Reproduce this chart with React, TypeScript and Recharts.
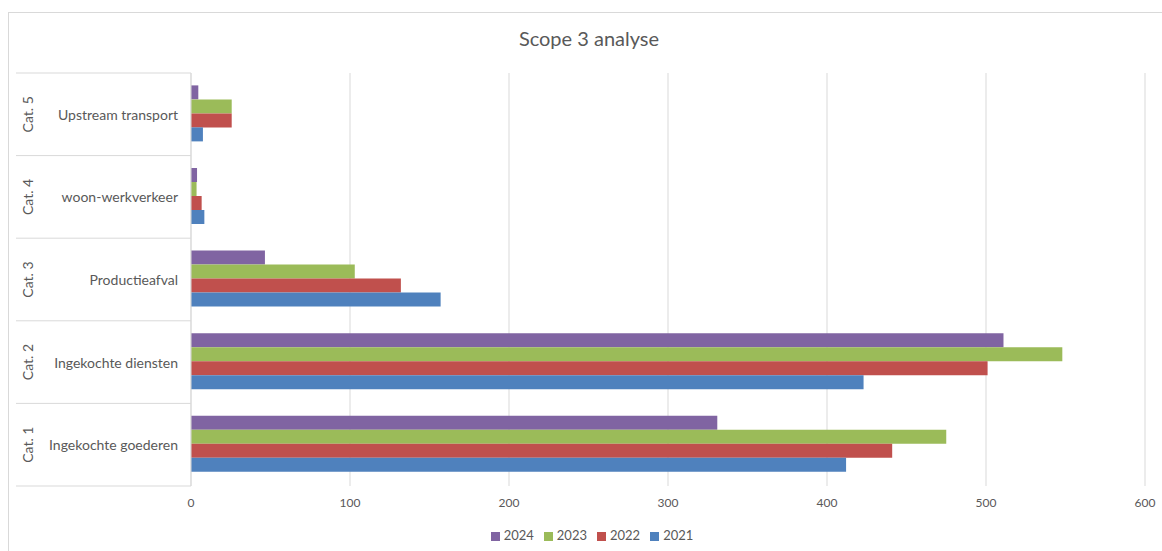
import React from 'react';
import { BarChart, Bar, XAxis, YAxis, CartesianGrid, Legend } from 'recharts';

const groups = ['Cat. 1', 'Cat. 2', 'Cat. 3', 'Cat. 4', 'Cat. 5'];
const categories = [
  'Ingekochte goederen',
  'Ingekochte diensten',
  'Productieafval',
  'woon-werkverkeer',
  'Upstream transport',
];
const values2021 = [412, 423, 157, 8.4, 7.5];
const values2022 = [441, 501, 132, 6.7, 25.6];
const values2023 = [475, 548, 103, 3.5, 25.6];
const values2024 = [331, 511, 46.5, 3.8, 4.6];
const xTicks = [0, 100, 200, 300, 400, 500, 600];

// Excel draws the first category at the bottom, so reverse for top-to-bottom order
const data = categories
  .map((name, i) => ({
    name,
    group: groups[i],
    y2021: values2021[i],
    y2022: values2022[i],
    y2023: values2023[i],
    y2024: values2024[i],
  }))
  .reverse();

const FONT = 'Lato, "Open Sans", sans-serif';
const TEXT = '#595959';
const LINE = '#d9d9d9';

const CategoryTick = (props: any) => {
  const { y, payload, index } = props;
  const half = payload.offset || 41;
  const row = data[index];
  return (
    <g>
      <line x1={7} x2={182} y1={y - half} y2={y - half} stroke={LINE} />
      {index === data.length - 1 && (
        <line x1={7} x2={182} y1={y + half} y2={y + half} stroke={LINE} />
      )}
      <text
        x={169}
        y={y}
        textAnchor="end"
        dominantBaseline="central"
        fill={TEXT}
        fontSize={14}
        fontFamily={FONT}
      >
        {payload.value}
      </text>
      <text
        transform={`translate(18, ${y}) rotate(-90)`}
        textAnchor="middle"
        dominantBaseline="central"
        fill={TEXT}
        fontSize={14}
        fontFamily={FONT}
      >
        {row ? row.group : ''}
      </text>
    </g>
  );
};

const App = () => {
  return (
    <div
      style={{
        position: 'fixed',
        top: 12,
        left: 8,
        width: 1162,
        height: 560,
        border: `1px solid ${LINE}`,
        boxSizing: 'border-box',
        background: '#fff',
        overflow: 'hidden',
        fontFamily: FONT,
      }}
    >
      <BarChart
        width={1160}
        height={533}
        data={data}
        layout="vertical"
        margin={{ top: 60, right: 24, left: 0, bottom: 3 }}
        barCategoryGap="15%"
        barGap={0}
      >
        <text x={580} y={25} textAnchor="middle" dominantBaseline="central" fill={TEXT} fontSize={20} fontFamily={FONT}>
          Scope 3 analyse
        </text>
        <CartesianGrid horizontal={false} stroke={LINE} />
        <XAxis
          type="number"
          domain={[0, 600]}
          ticks={xTicks}
          axisLine={false}
          tickLine={false}
          height={41}
          tick={{ fill: TEXT, fontSize: 12, fontFamily: FONT }}
          tickMargin={6}
        />
        <YAxis
          type="category"
          dataKey="name"
          width={182}
          axisLine={{ stroke: LINE }}
          tickLine={false}
          tick={<CategoryTick />}
          interval={0}
        />
        <Legend
          verticalAlign="bottom"
          iconType="square"
          iconSize={9}
          itemSorter={(item: any) => -Number(item.value)}
          wrapperStyle={{ fontSize: 13, fontFamily: FONT, paddingLeft: 40, boxSizing: 'border-box' }}
          formatter={(value: string) => <span style={{ color: TEXT }}>{value}</span>}
        />
        <Bar dataKey="y2024" name="2024" fill="#8064A2" isAnimationActive={false} />
        <Bar dataKey="y2023" name="2023" fill="#9BBB59" isAnimationActive={false} />
        <Bar dataKey="y2022" name="2022" fill="#C0504D" isAnimationActive={false} />
        <Bar dataKey="y2021" name="2021" fill="#4F81BD" isAnimationActive={false} />
      </BarChart>
    </div>
  );
};

export default App;
